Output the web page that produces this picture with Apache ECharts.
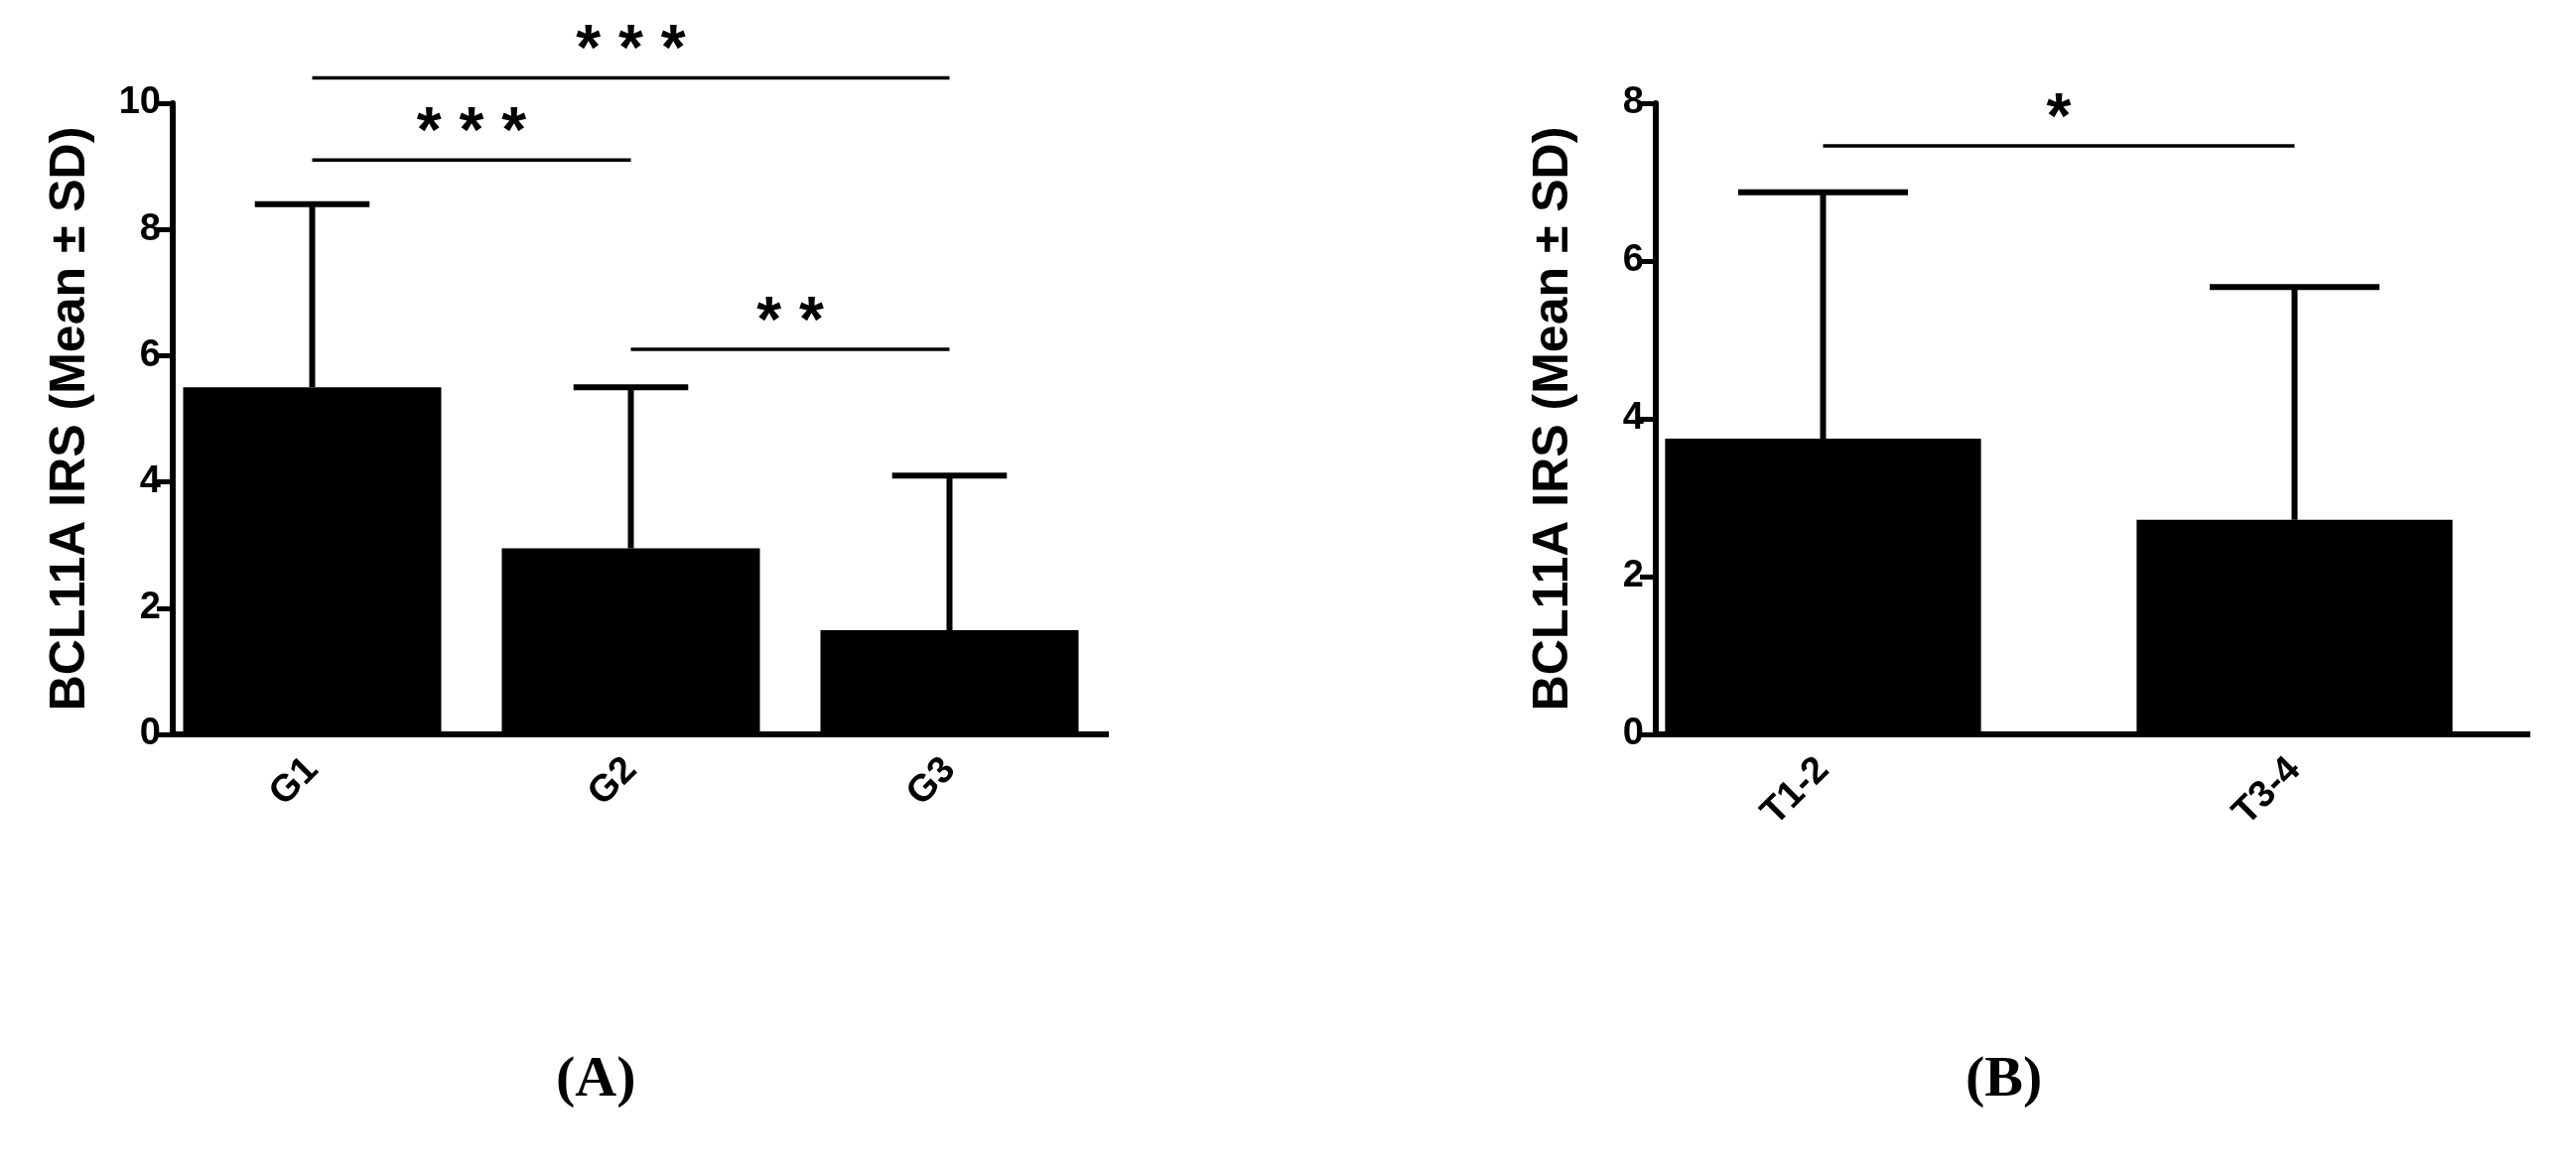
<!DOCTYPE html>
<html lang="en" style="height: 100%">
<head>
    <meta charset="utf-8">
    <title>BCL11A IRS</title>
    <script src="https://cdn.jsdelivr.net/npm/echarts@6/dist/echarts.min.js"></script>
</head>
<body style="height: 100%; width: 100%; margin: 0; background: #fff">
<div id="main" style="width: 2595px; height: 1184px"></div>
<script type="text/javascript">
    // panel A
    var gradeCats = ['G1', 'G2', 'G3'];
    var gradeMean = [5.5, 2.95, 1.65];
    var gradeSd = [2.9, 2.55, 2.45];
    // [from, to, y, label]
    var gradeSig = [[0, 2, 10.4, '* * *'], [0, 1, 9.1, '* * *'], [1, 2, 6.1, '* *']];
    // panel B
    var stageCats = ['T1-2', 'T3-4'];
    var stageMean = [3.75, 2.72];
    var stageSd = [3.12, 2.95];
    var stageSig = [[0, 1, 7.46, '*']];

    var font = 'Liberation Sans, Arial, sans-serif';
    var myChart = echarts.init(document.getElementById('main'));
    var sigLabels = {};

    function errItem(params, api) {
        var x = api.value(0), m = api.value(1), sd = api.value(2);
        var p0 = api.coord([x, m]);
        var p1 = api.coord([x, m + sd]);
        var half = api.size([1, 0])[0] * 0.18;
        var st = {stroke: '#000', lineWidth: 6};
        return {
            type: 'group',
            children: [
                {type: 'line', shape: {x1: p0[0], y1: p0[1], x2: p1[0], y2: p1[1]}, style: st},
                {type: 'line', shape: {x1: p1[0] - half, y1: p1[1], x2: p1[0] + half, y2: p1[1]}, style: st}
            ]
        };
    }

    function sigItem(params, api) {
        var a = api.coord([api.value(0), api.value(2)]);
        var b = api.coord([api.value(1), api.value(2)]);
        return {
            type: 'group',
            children: [
                {type: 'line', shape: {x1: a[0], y1: a[1], x2: b[0], y2: b[1]},
                    style: {stroke: '#000', lineWidth: 3.5}},
                {type: 'text', x: (a[0] + b[0]) / 2, y: a[1] + 6,
                    style: {text: sigLabels[params.seriesIndex][params.dataIndex], fill: '#000',
                        font: 'bold 64px ' + font, align: 'center', verticalAlign: 'bottom'}}
            ]
        };
    }

    function axes(idx, cats, max, off) {
        return {
            x: {
                type: 'category', gridIndex: idx, data: cats,
                axisLine: {show: false},
                axisTick: {alignWithLabel: true, length: 16, lineStyle: {width: 5, color: '#000'}},
                axisLabel: {rotate: 45, color: '#000', fontSize: 38, fontWeight: 'bold', fontFamily: font, margin: 30}
            },
            y: {
                type: 'value', gridIndex: idx, min: 0, max: max, interval: 2, offset: off,
                name: 'BCL11A IRS (Mean ± SD)', nameLocation: 'middle', nameGap: 78,
                nameTextStyle: {color: '#000', fontSize: 50, fontWeight: 'bold', fontFamily: font},
                axisLine: {show: true, lineStyle: {color: '#000', width: 6}},
                axisTick: {show: true, length: 16, lineStyle: {width: 5, color: '#000'}},
                axisLabel: {color: '#000', fontSize: 38, fontWeight: 'bold', fontFamily: font, margin: 12},
                splitLine: {show: false}
            }
        };
    }
    var aA = axes(0, gradeCats, 10, -20), aB = axes(1, stageCats, 8, -69);

    var series = [
        {type: 'bar', xAxisIndex: 0, yAxisIndex: 0, data: gradeMean, barWidth: '81%',
            itemStyle: {color: '#000'}},
        {type: 'custom', xAxisIndex: 0, yAxisIndex: 0, renderItem: errItem, z: 1,
            data: gradeMean.map(function (m, i) { return [i, m, gradeSd[i]]; })},
        {type: 'custom', xAxisIndex: 0, yAxisIndex: 0, renderItem: sigItem, clip: false,
            data: gradeSig.map(function (s) { return [s[0], s[1], s[2]]; })},
        {type: 'bar', xAxisIndex: 1, yAxisIndex: 1, data: stageMean, barWidth: '67%',
            itemStyle: {color: '#000'}},
        {type: 'custom', xAxisIndex: 1, yAxisIndex: 1, renderItem: errItem, z: 1,
            data: stageMean.map(function (m, i) { return [i, m, stageSd[i]]; })},
        {type: 'custom', xAxisIndex: 1, yAxisIndex: 1, renderItem: sigItem, clip: false,
            data: stageSig.map(function (s) { return [s[0], s[1], s[2]]; })}
    ];
    sigLabels[2] = gradeSig.map(function (s) { return s[3]; });
    sigLabels[5] = stageSig.map(function (s) { return s[3]; });

    var grids = [
        {left: 154, top: 104, width: 963, height: 636},
        {left: 1599, top: 104, width: 950, height: 636}
    ];

    myChart.setOption({
        animation: false,
        backgroundColor: '#fff',
        grid: grids,
        xAxis: [aA.x, aB.x],
        yAxis: [aA.y, aB.y],
        series: series
    });

    // x axis baselines start at the shifted y axis
    var offs = [20, 69];
    var base = grids.map(function (g, i) {
        var y0 = myChart.convertToPixel({yAxisIndex: i}, 0);
        return {type: 'line', z: 10, shape: {x1: g.left + offs[i] - 3, y1: y0, x2: g.left + g.width, y2: y0},
            style: {stroke: '#000', lineWidth: 6}};
    });
    myChart.setOption({
        graphic: base.concat([
            {type: 'text', left: 560, top: 1060, style: {text: '(A)', fill: '#000',
                font: 'bold 58px Liberation Serif, Times New Roman, serif'}},
            {type: 'text', left: 1980, top: 1060, style: {text: '(B)', fill: '#000',
                font: 'bold 58px Liberation Serif, Times New Roman, serif'}}
        ])
    });
</script>
</body>
</html>
